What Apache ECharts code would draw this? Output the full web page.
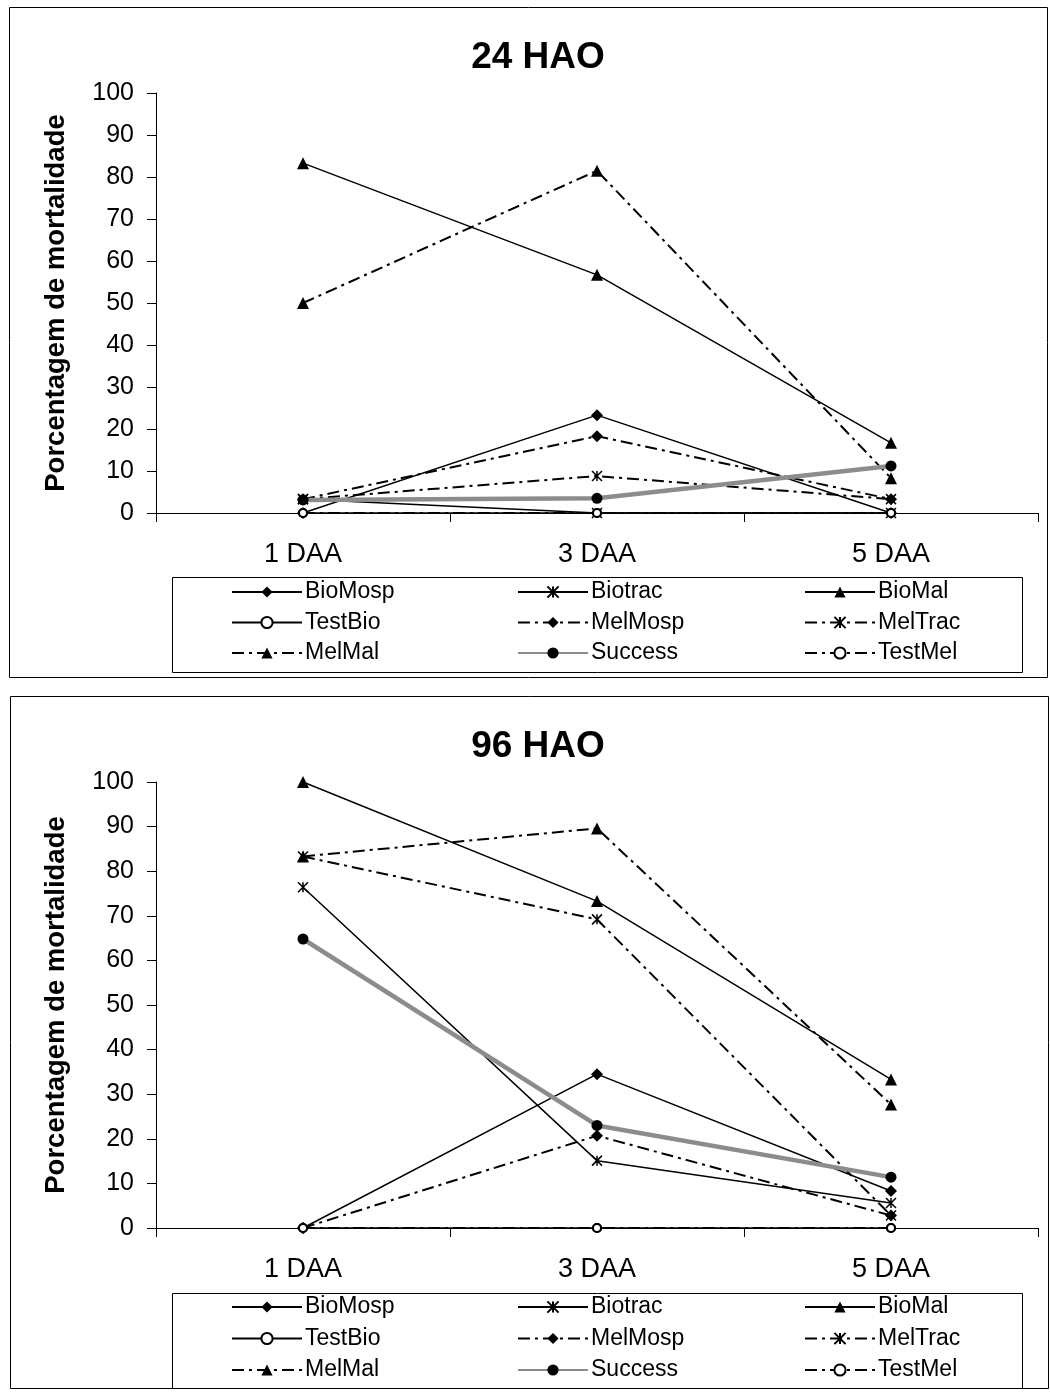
<!DOCTYPE html>
<html><head><meta charset="utf-8">
<script src="https://cdn.jsdelivr.net/npm/echarts@6/dist/echarts.min.js"></script>
<style>html,body{margin:0;padding:0;background:#fff}#c{width:1050px;height:1392px}</style>
</head><body><div id="c"></div>
<script>
const categories = ['1 DAA', '3 DAA', '5 DAA'];
const seriesNames = ['BioMosp', 'Biotrac', 'BioMal', 'TestBio', 'MelMosp', 'MelTrac', 'MelMal', 'Success', 'TestMel'];
const titles = ['24 HAO', '96 HAO'];
const yAxisName = 'Porcentagem de mortalidade';
const yTicks = { min: 0, max: 100, interval: 10 };

// 24 HAO
const bioMosp24 = [0, 23.3, 0];
const biotrac24 = [3.3, 0, 0];
const bioMal24 = [83.3, 56.7, 16.7];
const testBio24 = [0, 0, 0];
const melMosp24 = [3.3, 18.3, 3.3];
const melTrac24 = [3.3, 8.8, 3.3];
const melMal24 = [50, 81.5, 8.3];
const success24 = [3.1, 3.5, 11.2];
const testMel24 = [0, 0, 0];

// 96 HAO
const bioMosp96 = [0, 34.5, 8.3];
const biotrac96 = [76.4, 15.1, 5.6];
const bioMal96 = [100, 73.3, 33.3];
const testBio96 = [0, 0, 0];
const melMosp96 = [0, 20.7, 2.8];
const melTrac96 = [83.3, 69.2, 2.8];
const melMal96 = [83.3, 89.6, 27.7];
const success96 = [64.8, 23, 11.4];
const testMel96 = [0, 0, 0];

const data24 = [bioMosp24, biotrac24, bioMal24, testBio24, melMosp24, melTrac24, melMal24, success24, testMel24];
const data96 = [bioMosp96, biotrac96, bioMal96, testBio96, melMosp96, melTrac96, melMal96, success96, testMel96];

const FONT = 'Liberation Sans';
const STAR = 'path://M0,0L10,10M10,0L0,10M5,0L5,10';
const DASHDOT = [12, 5, 3, 5];
const styles = {
  BioMosp: { symbol: 'diamond', size: 12, dash: 'solid', width: 1.5, color: '#000' },
  Biotrac: { symbol: STAR, size: 10, dash: 'solid', width: 1.5, color: '#000', stroke: true },
  BioMal: { symbol: 'triangle', size: 12, dash: 'solid', width: 1.5, color: '#000' },
  TestBio: { symbol: 'emptyCircle', size: 8, dash: 'solid', width: 1.5, color: '#000' },
  MelMosp: { symbol: 'diamond', size: 12, dash: DASHDOT, width: 2, color: '#000' },
  MelTrac: { symbol: STAR, size: 10, dash: DASHDOT, width: 2, color: '#000', stroke: true },
  MelMal: { symbol: 'triangle', size: 12, dash: DASHDOT, width: 2, color: '#000' },
  Success: { symbol: 'circle', size: 11, dash: 'solid', width: 4.5, color: '#8c8c8c', markColor: '#000' },
  TestMel: { symbol: 'emptyCircle', size: 8, dash: DASHDOT, width: 2, color: '#000' }
};

function makeSeries(gi, dataList) {
  return seriesNames.map((name, i) => {
    const s = styles[name];
    const itemStyle = { color: s.markColor || s.color };
    if (s.stroke) { itemStyle.borderColor = '#000'; itemStyle.borderWidth = 1.5; }
    if (s.symbol === 'emptyCircle') { itemStyle.borderWidth = 1.5; }
    return {
      name: name, type: 'line', xAxisIndex: gi, yAxisIndex: gi,
      data: dataList[i], symbol: s.symbol, symbolSize: s.size,
      lineStyle: { color: s.color, width: s.width, type: s.dash },
      itemStyle: itemStyle, animation: false, z: 2
    };
  });
}

const gridTops = [93, 782];
const gridHeights = [420, 446];
const legendTops = [580, 1295];
const legendGaps = [6.5, 7.5];
const legendCols = [[0, 3, 6], [1, 4, 7], [2, 5, 8]];
const legendLefts = [231, 517, 804];

const option = {
  backgroundColor: '#fff',
  animation: false,
  textStyle: { fontFamily: FONT },
  title: titles.map((t, i) => ({
    text: t, left: 533, textAlign: 'center', top: i === 0 ? 34 : 723,
    textStyle: { fontFamily: FONT, fontWeight: 'bold', fontSize: 37, color: '#000' }
  })),
  grid: gridTops.map((t, i) => ({ left: 156, right: 12, top: t, height: gridHeights[i] })),
  xAxis: [0, 1].map(i => ({
    type: 'category', gridIndex: i, data: categories, boundaryGap: true,
    axisLine: { lineStyle: { color: '#000', width: 1 } },
    axisTick: { show: true, inside: false, length: 9, lineStyle: { color: '#000' } },
    axisLabel: { fontFamily: FONT, fontSize: 27, color: '#000', margin: 28 },
    splitLine: { show: false }
  })),
  yAxis: [0, 1].map(i => ({
    type: 'value', gridIndex: i, min: yTicks.min, max: yTicks.max, interval: yTicks.interval,
    name: yAxisName, nameLocation: 'middle', nameGap: 86,
    nameTextStyle: { fontFamily: FONT, fontWeight: 'bold', fontSize: 27.5, color: '#000' },
    axisLine: { show: true, lineStyle: { color: '#000', width: 1 } },
    axisTick: { show: true, length: 9, lineStyle: { color: '#000' } },
    axisLabel: { fontFamily: FONT, fontSize: 25, color: '#000', margin: 22 },
    splitLine: { show: false }
  })),
  legend: [].concat(...[0, 1].map(gi => legendCols.map((col, ci) => ({
    orient: 'vertical', left: legendLefts[ci], top: legendTops[gi], padding: 0, height: 110,
    itemWidth: 70, itemHeight: 14, itemGap: legendGaps[gi], selectedMode: false,
    data: col.map(k => seriesNames[k]),
    textStyle: { fontFamily: FONT, fontSize: 23, color: '#000', lineHeight: 24, padding: [0, 0, 0, -2] }
  })))),
  graphic: [
    { type: 'rect', silent: true, shape: { x: 9.5, y: 7.5, width: 1038, height: 670 }, style: { fill: 'none', stroke: '#000', lineWidth: 1 } },
    { type: 'rect', silent: true, shape: { x: 10.5, y: 696.5, width: 1038, height: 692 }, style: { fill: 'none', stroke: '#000', lineWidth: 1 } },
    { type: 'rect', silent: true, shape: { x: 172.5, y: 577.5, width: 850, height: 95 }, style: { fill: 'none', stroke: '#000', lineWidth: 1 } },
    { type: 'rect', silent: true, shape: { x: 172.5, y: 1293.5, width: 850, height: 95 }, style: { fill: 'none', stroke: '#000', lineWidth: 1 } }
  ],
  series: makeSeries(0, data24).concat(makeSeries(1, data96))
};

const chart = echarts.init(document.getElementById('c'), null, { renderer: 'canvas' });
chart.setOption(option);
</script>
</body></html>
